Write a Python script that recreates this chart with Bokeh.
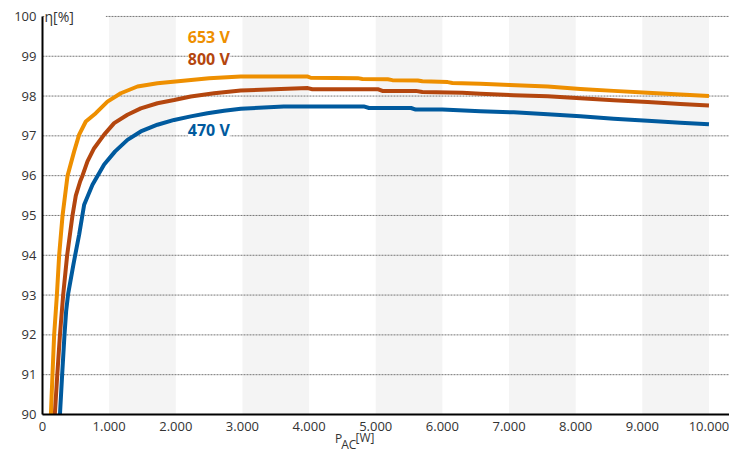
from bokeh.plotting import figure
from bokeh.models import FixedTicker, Label, BoxAnnotation, Range1d
from bokeh.embed import file_html
from bokeh.resources import INLINE

# ---- data ----
w_653 = [126, 150, 175, 216, 250, 301, 376, 475, 550, 650, 800, 975, 1175, 1425, 1725,
         2075, 2500, 2975, 3980, 4025, 4730, 4800, 5180, 5250, 5630, 5700, 6080, 6150, 6570,
         7010, 7580, 8070, 8570, 9080, 9570, 10000]
eta_653 = [90.0, 91.0, 92.0, 93.0, 94.0, 95.0, 96.0, 96.61, 97.03, 97.36, 97.57, 97.86,
           98.07, 98.24, 98.32, 98.38, 98.45, 98.49, 98.49, 98.46, 98.45, 98.43, 98.42, 98.40,
           98.39, 98.37, 98.35, 98.33, 98.31, 98.28, 98.24, 98.18, 98.13, 98.08, 98.04, 98.0]

w_800 = [185, 222, 262, 310, 370, 450, 500, 566, 600, 675, 775, 925, 1075, 1275, 1475,
         1725, 1975, 2225, 2575, 2975, 3980, 4050, 5040, 5100, 5600, 5700, 6300, 6570, 7070,
         7580, 8070, 8570, 9080, 9570, 10000]
eta_800 = [90.0, 91.0, 92.0, 93.0, 94.0, 95.0, 95.5, 95.86, 96.0, 96.36, 96.69, 97.03,
           97.32, 97.53, 97.69, 97.82, 97.90, 97.99, 98.07, 98.14, 98.20, 98.17, 98.17, 98.13,
           98.13, 98.10, 98.08, 98.055, 98.02, 97.995, 97.945, 97.895, 97.85, 97.80, 97.76]

w_470 = [262, 295, 330, 355, 385, 465, 550, 625, 750, 925, 1090, 1275, 1475, 1725, 1975,
         2225, 2475, 2725, 2975, 3620, 4820, 4900, 5530, 5600, 6000, 6570, 7070, 7580, 8070,
         8570, 9080, 9570, 10000]
eta_470 = [90.0, 91.0, 92.0, 92.6, 93.03, 93.78, 94.52, 95.27, 95.77, 96.28, 96.61, 96.90,
           97.11, 97.28, 97.40, 97.49, 97.57, 97.63, 97.68, 97.74, 97.74, 97.70, 97.70, 97.66,
           97.66, 97.62, 97.59, 97.54, 97.49, 97.43, 97.38, 97.33, 97.29]

x_ticks = [0, 1000, 2000, 3000, 4000, 5000, 6000, 7000, 8000, 9000, 10000]
x_tick_labels = ["0", "1.000", "2.000", "3.000", "4.000", "5.000", "6.000", "7.000",
                 "8.000", "9.000", "10.000"]
y_ticks = [90, 91, 92, 93, 94, 95, 96, 97, 98, 99, 100]

series_names = ["653 V", "800 V", "470 V"]
series_colors = ["#EE8F00", "#B4460E", "#005A9E"]
label_x = [2180, 2180, 2180]
label_y = [99.49, 98.93, 97.14]

# x-axis title pieces: P with subscript AC, then [W]
title_parts = ["P", "AC", "[W]"]
title_x = [4389, 4481, 4696]
title_y = [89.40, 89.234, 89.43]

FONT = "Open Sans"
TXT = "#333333"
X_START, X_END = -510, 10308
Y_MIN, Y_MAX = 90, 100

# frame spans the whole picture; both axes sit at fixed data locations
p = figure(width=729, height=452, output_backend="svg", toolbar_location=None,
           x_range=Range1d(X_START, X_END), y_range=Range1d(89.045, 100.3),
           min_border_left=8, min_border_right=0, min_border_top=4, min_border_bottom=0)
p.outline_line_color = None
p.background_fill_color = "white"
p.border_fill_color = "white"
p.grid.visible = False

# alternating grey bands (between every other pair of x ticks)
p.quad(left=x_ticks[1::2], right=x_ticks[2::2], bottom=Y_MIN, top=Y_MAX,
       fill_color="#f4f4f4", line_color=None, level="underlay")
# dotted horizontal grid lines at the y ticks, starting at the y axis
p.segment(x0=[x_ticks[0]] * len(y_ticks), x1=[X_END] * len(y_ticks), y0=y_ticks, y1=y_ticks,
          line_color="#767676", line_dash="2 1", line_width=1, level="underlay")

for ax in (p.xaxis[0], p.yaxis[0]):
    ax.major_tick_line_color = None
    ax.minor_tick_line_color = None
    ax.major_tick_out = 0
    ax.major_tick_in = 0
    ax.minor_tick_out = 0
    ax.minor_tick_in = 0
    ax.major_label_text_font = FONT
    ax.major_label_text_font_size = "13px"
    ax.major_label_text_color = TXT
    ax.axis_line_color = "black"
    ax.axis_line_width = 2
p.xaxis.major_label_standoff = 8
p.yaxis.major_label_standoff = 6
p.xaxis.ticker = FixedTicker(ticks=x_ticks)
p.xaxis.major_label_overrides = {t: s for t, s in zip(x_ticks, x_tick_labels)}
p.xaxis.fixed_location = Y_MIN
p.xaxis.bounds = (x_ticks[0], X_END)
p.yaxis.ticker = FixedTicker(ticks=y_ticks)
p.yaxis.fixed_location = x_ticks[0]
p.yaxis.bounds = (Y_MIN, Y_MAX)

# white patch hiding the top gridline behind the y title
p.add_layout(BoxAnnotation(left=30, right=950, bottom=99.85, top=100.15,
                           fill_color="white", fill_alpha=1.0, line_color=None))

# curves
for ws, es, c in [(w_653, eta_653, series_colors[0]), (w_800, eta_800, series_colors[1]),
                  (w_470, eta_470, series_colors[2])]:
    p.line(ws, es, line_color=c, line_width=4, line_join="round", line_cap="butt")

# series labels
for name, c, lx, ly in zip(series_names, series_colors, label_x, label_y):
    p.add_layout(Label(x=lx, y=ly, text=name, text_color=c, text_font=FONT,
                       text_font_size="16px", text_font_style="bold",
                       text_baseline="middle", text_align="left",
                       background_fill_color="white", background_fill_alpha=1.0))

# y-axis title
p.add_layout(Label(x=30, y=100.01, text="η[%]", text_font=FONT, text_font_size="14px",
                   text_color=TXT, text_baseline="middle", text_align="left"))

# x-axis title
for txt, tx, ty in zip(title_parts, title_x, title_y):
    p.add_layout(Label(x=tx, y=ty, text=txt, text_font=FONT, text_font_size="12px",
                       text_color=TXT, text_baseline="alphabetic", text_align="left"))

open("out.html", "w").write(file_html(p, INLINE))
